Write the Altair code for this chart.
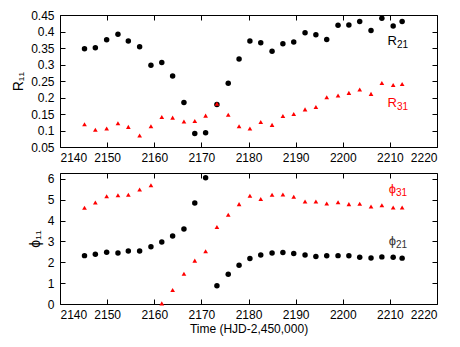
import altair as alt
import pandas as pd

# ---- data ----
time = [2145.2, 2147.5, 2149.9, 2152.3, 2154.5, 2156.9, 2159.3, 2161.6, 2163.9, 2166.3,
        2168.6, 2170.9, 2173.3, 2175.7, 2178.0, 2180.3, 2182.6, 2185.0, 2187.3, 2189.6,
        2192.0, 2194.3, 2196.6, 2199.0, 2201.3, 2203.6, 2206.0, 2208.3, 2210.7, 2212.6]
r21 = [0.348, 0.351, 0.375, 0.392, 0.371, 0.354, 0.298, 0.306, 0.265, 0.185,
       0.091, 0.093, 0.179, 0.243, 0.317, 0.371, 0.366, 0.340, 0.363, 0.368,
       0.396, 0.390, 0.376, 0.419, 0.420, 0.430, 0.403, 0.440, 0.417, 0.430]
r31 = [0.119, 0.102, 0.106, 0.122, 0.111, 0.085, 0.113, 0.141, 0.139, 0.127,
       0.129, 0.145, 0.181, 0.148, 0.113, 0.106, 0.126, 0.117, 0.144, 0.150,
       0.164, 0.171, 0.201, 0.206, 0.214, 0.224, 0.211, 0.244, 0.238, 0.241]
phi21 = [2.32, 2.39, 2.48, 2.45, 2.54, 2.54, 2.75, 2.97, 3.26, 3.60,
         4.84, 6.05, 0.87, 1.43, 1.86, 2.18, 2.35, 2.45, 2.47, 2.42,
         2.35, 2.28, 2.31, 2.32, 2.31, 2.24, 2.21, 2.26, 2.24, 2.20]
phi31 = [4.62, 4.87, 5.17, 5.22, 5.24, 5.49, 5.70, 0.03, 0.67, 1.45,
         2.08, 2.53, 3.69, 4.28, 4.79, 5.19, 5.04, 5.24, 5.25, 5.14,
         4.92, 4.92, 4.82, 4.88, 4.79, 4.81, 4.68, 4.74, 4.63, 4.63]

x_ticks = [2140, 2150, 2160, 2170, 2180, 2190, 2200, 2210, 2220]
r_ticks = [0.05, 0.1, 0.15, 0.2, 0.25, 0.3, 0.35, 0.4, 0.45]
phi_ticks = [0, 1, 2, 3, 4, 5, 6]

# annotation labels (data coordinates)
r_lab_x = [2211.5, 2211.5]
r_lab_y = [0.359, 0.170]
r_lab_main = ["R", "R"]
r_lab_sub = ["21", "31"]
r_lab_col = ["black", "red"]
p_lab_x = [2211.3, 2211.3]
p_lab_y = [5.30, 2.82]
p_lab_main = ["ϕ", "ϕ"]
p_lab_sub = ["31", "21"]
p_lab_col = ["red", "#333333"]

FONT = "Liberation Sans"
W = 377


def panel(yvals_black, yvals_red, ydomain, yticks, ytitle, height,
          lx, ly, lmain, lsub, lcol, xtitle):
    df = pd.DataFrame({"time": time, "black": yvals_black, "red": yvals_red})
    labs = pd.DataFrame({"x": lx, "y": ly, "main": lmain, "sub": lsub, "col": lcol})

    xs = alt.Scale(domain=[2140, 2220], nice=False, zero=False)
    ys = alt.Scale(domain=ydomain, nice=False, zero=False)
    common = dict(domain=False, tickSize=5, tickColor="black", tickWidth=1,
                  labelFont=FONT, labelFontSize=12, labelColor="black",
                  titleFont=FONT, titleFontSize=12, titleFontWeight="normal",
                  titleColor="black", grid=False)

    x_main = alt.X("time:Q", scale=xs,
                   axis=alt.Axis(orient="bottom", offset=-5, values=x_ticks,
                                 format="d", labelPadding=5, title=xtitle,
                                 titlePadding=3, **common))
    y_common = dict(common)
    y_common["titleFontSize"] = 14
    y_main = alt.Y("black:Q", scale=ys,
                   axis=alt.Axis(orient="left", offset=-5, values=yticks,
                                 labelPadding=6, format="~g", title=ytitle,
                                 titlePadding=5, **y_common))

    circles = alt.Chart(df).mark_circle(size=30, color="black", opacity=1).encode(
        x=x_main, y=y_main)
    tris = alt.Chart(df).mark_point(shape="triangle-up", filled=True, size=22,
                                    color="red", opacity=1).encode(
        x=alt.X("time:Q", scale=xs, axis=None),
        y=alt.Y("red:Q", scale=ys, axis=None))

    x_mirror = alt.X("x:Q", scale=xs,
                     axis=alt.Axis(orient="top", offset=-5, values=x_ticks,
                                   labels=False, title=None, **common))
    y_mirror = alt.Y("y:Q", scale=ys,
                     axis=alt.Axis(orient="right", offset=-5, values=yticks,
                                   labels=False, title=None, **common))
    main_txt = alt.Chart(labs).mark_text(font=FONT, fontSize=13, align="right",
                                         baseline="alphabetic").encode(
        x=x_mirror, y=y_mirror, text="main:N",
        color=alt.Color("col:N", scale=None))
    sub_txt = alt.Chart(labs).mark_text(font=FONT, fontSize=10, align="left",
                                        baseline="alphabetic", dy=3).encode(
        x=alt.X("x:Q", scale=xs, axis=None),
        y=alt.Y("y:Q", scale=ys, axis=None), text="sub:N",
        color=alt.Color("col:N", scale=None))

    return alt.layer(circles, tris, main_txt, sub_txt).resolve_axis(
        x="independent", y="independent").properties(width=W, height=height)


top = panel(r21, r31, [0.05, 0.45], r_ticks, "R₁₁", 132,
            r_lab_x, r_lab_y, r_lab_main, r_lab_sub, r_lab_col, None)
bottom = panel(phi21, phi31, [0, 6.2832], phi_ticks, "ϕ₁₁", 131,
               p_lab_x, p_lab_y, p_lab_main, p_lab_sub, p_lab_col,
               "Time (HJD-2,450,000)")

chart = alt.vconcat(top, bottom, spacing=8).properties(
    padding={"left": 3, "top": 0, "right": 5, "bottom": 2},
    background="white",
).configure_view(stroke="black", strokeWidth=1)

chart.save("out.html", embed_options={"renderer": "svg", "actions": False})
